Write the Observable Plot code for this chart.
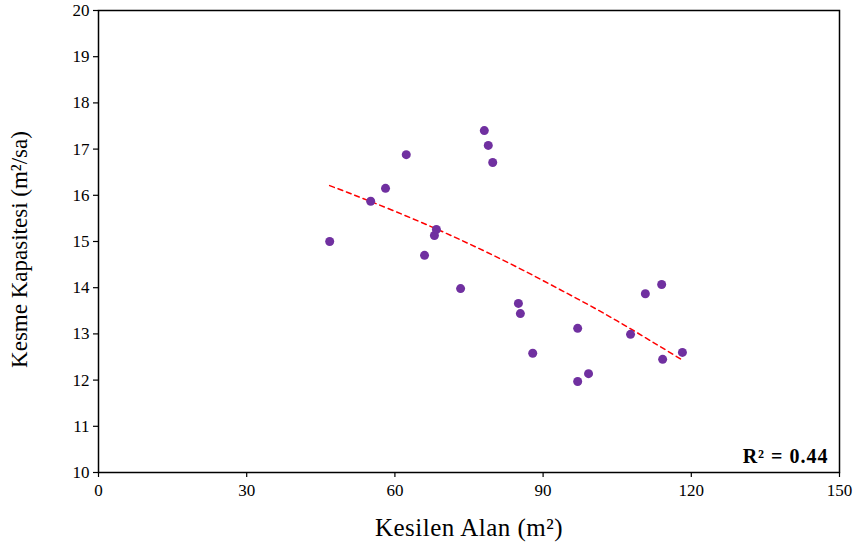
<!DOCTYPE html>
<html><head><meta charset="utf-8">
<script src="https://cdn.jsdelivr.net/npm/d3@7"></script>
<script src="https://cdn.jsdelivr.net/npm/@observablehq/plot@0.6"></script>
<style>body{margin:0;background:#fff;} svg{display:block;} svg, svg text{font-family:"Liberation Serif","Times New Roman",serif !important;}
.xlab text, text.xlab, .xlab{letter-spacing:0.5px;} .r2lab text, text.r2lab, .r2lab{letter-spacing:1px;}</style>
</head><body><div id="chart"></div>
<script>
const areaX = [46.8,55.1,58.1,62.3,66.0,68.0,68.4,73.3,78.1,78.9,79.8,85.0,85.4,87.9,97.0,97.0,99.2,107.7,110.7,114.0,114.2,118.2];
const capY  = [15.00,15.87,16.15,16.88,14.70,15.13,15.26,13.98,17.40,17.08,16.71,13.66,13.44,12.58,13.12,11.97,12.14,12.99,13.87,14.07,12.45,12.60];
const trendX = [46.8,55,65,75,85,95,105,118.4];
const trendY = [16.21,15.87,15.43,14.95,14.43,13.87,13.28,12.42];
const xTicks = [0,30,60,90,120,150];
const yTicks = [10,11,12,13,14,15,16,17,18,19,20];
const r2Label = "R² = 0.44";

const pts = areaX.map((x,i)=>({x, y: capY[i]}));
const trend = trendX.map((x,i)=>({x, y: trendY[i]}));

const chart = Plot.plot({
  width: 857, height: 542,
  marginLeft: 98, marginRight: 18, marginTop: 10, marginBottom: 70,
  style: {fontFamily: "'Liberation Serif', serif", fontSize: "17px", color: "#000", background: "#fff"},
  x: {domain: [0,150]},
  y: {domain: [10,20]},
  marks: [
    Plot.frame({stroke: "#000", strokeWidth: 1.5}),
    Plot.axisX({ticks: xTicks, tickSize: 5, tickPadding: 6, tickFormat: d=>d, fontSize: 17, label: null, stroke:"#000", strokeWidth:1.2}),
    Plot.axisY({ticks: yTicks, tickSize: 5, tickPadding: 4, tickFormat: d=>d, fontSize: 17, label: null, stroke:"#000", strokeWidth:1.2}),
    Plot.text(["Kesilen Alan (m²)"], {frameAnchor: "bottom", dy: 63, text: d=>d, fontSize: 25, className: "xlab"}),
    Plot.text(["Kesme Kapasitesi (m²/sa)"], {frameAnchor: "left", textAnchor: "middle", dx: -79, dy: 8, rotate: -90, text: d=>d, fontSize: 23}),
    Plot.line(trend, {x: "x", y: "y", curve: "natural", stroke: "#ff0000", strokeWidth: 1.5, strokeDasharray: "5,4"}),
    Plot.dot(pts, {x: "x", y: "y", r: 4.5, fill: "#7030A0", stroke: "none"}),
    Plot.text([r2Label], {frameAnchor: "bottom-right", dx: -11, dy: -10, text: d=>d, fontWeight: "bold", fontSize: 20, className: "r2lab", textAnchor: "end"})
  ]
});
document.getElementById("chart").appendChild(chart);
</script>
</body></html>
